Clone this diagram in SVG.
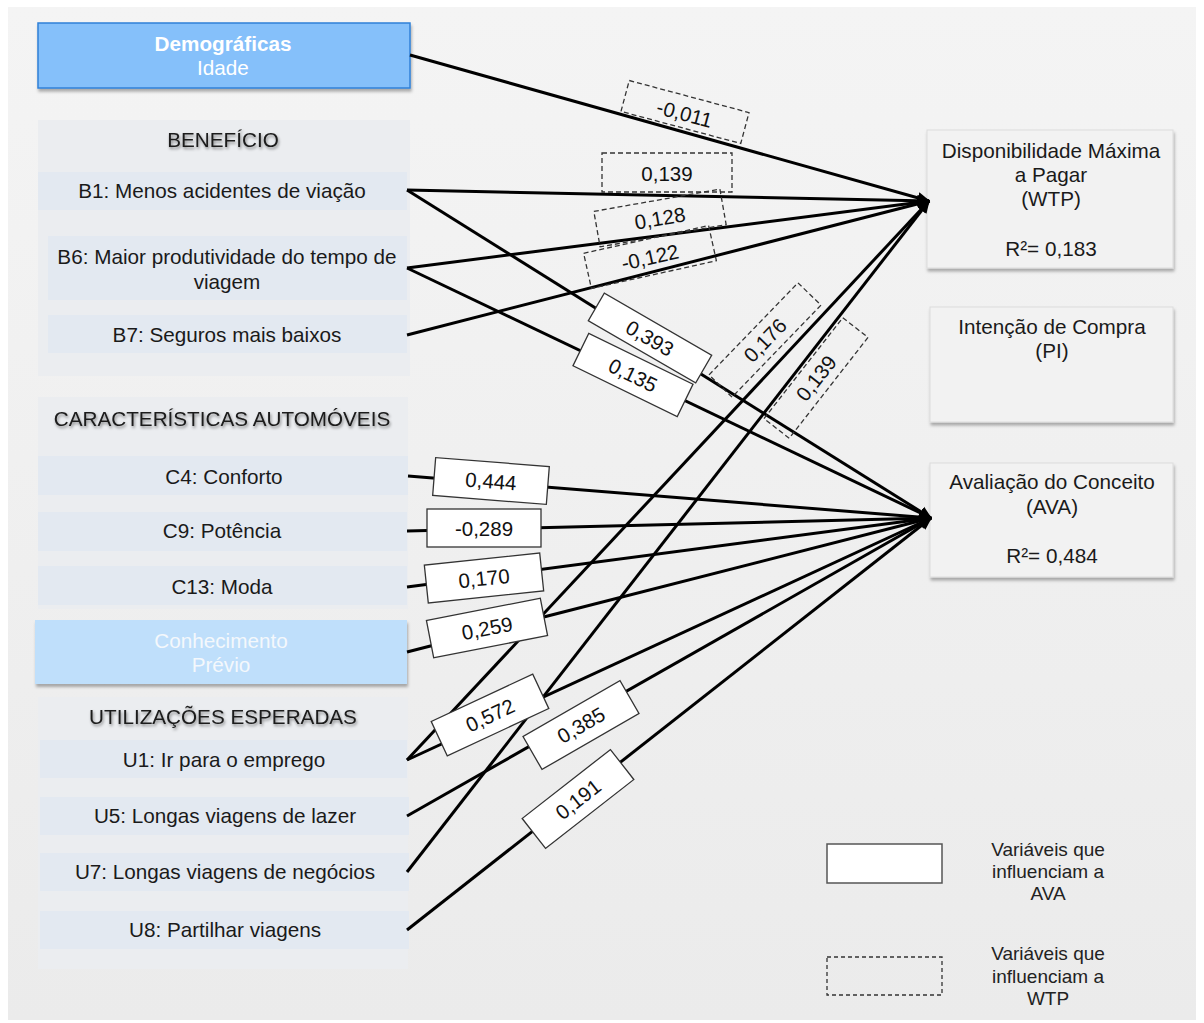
<svg xmlns="http://www.w3.org/2000/svg" width="1204" height="1023" viewBox="0 0 1204 1023">
<defs>
<linearGradient id="bg" x1="0" y1="0" x2="0" y2="1">
<stop offset="0" stop-color="#f4f4f4"/>
<stop offset="1" stop-color="#ebebeb"/>
</linearGradient>
<filter id="tshadow" x="-10%" y="-30%" width="120%" height="180%">
<feDropShadow dx="1" dy="2" stdDeviation="1.5" flood-color="#000" flood-opacity="0.45"/>
</filter>
<filter id="bshadow" x="-5%" y="-5%" width="115%" height="125%">
<feDropShadow dx="1" dy="3" stdDeviation="1.5" flood-color="#000" flood-opacity="0.3"/>
</filter>
<marker id="ah" viewBox="0 0 10 10" refX="9" refY="5" markerWidth="13" markerHeight="13" markerUnits="userSpaceOnUse" orient="auto">
<path d="M0,0.5 L10,5 L0,9.5 z" fill="#000"/>
</marker>
<style>
text{font-family:"Liberation Sans",Arial,sans-serif;fill:#1a1a1a;text-anchor:middle}
.t{font-size:20.7px}
.hd{font-size:20.7px;filter:url(#tshadow)}
.panel{fill:#ebedf0}
.row{fill:#e3e9f1}
.out{fill:#f2f2f2;stroke:#dcdcdc;stroke-width:1;filter:url(#bshadow)}
.ln{stroke:#000;stroke-width:3;fill:none;marker-end:url(#ah)}
.sol{fill:#fff;stroke:#333;stroke-width:1.3}
.dsh{fill:none;stroke:#333;stroke-width:1.3;stroke-dasharray:5,3}
.lb{font-size:20.5px;fill:#111}
.lg{font-size:19px;fill:#222}
</style>
</defs>

<rect x="0" y="0" width="1204" height="1023" fill="#fff"/>
<rect x="8" y="7" width="1188" height="1013" fill="url(#bg)"/>

<!-- left panels -->
<g id="panel-beneficio">
<rect class="panel" x="38" y="120" width="372" height="256"/>
<text class="hd" x="223" y="147">BENEFÍCIO</text>
</g>
<g id="panel-caracteristicas">
<rect class="panel" x="38" y="397" width="370" height="212"/>
<text class="hd" x="222" y="426">CARACTERÍSTICAS AUTOMÓVEIS</text>
</g>
<g id="panel-utilizacoes">
<rect class="panel" x="38" y="697" width="370" height="272"/>
<text class="hd" x="223" y="724">UTILIZAÇÕES ESPERADAS</text>
</g>

<g id="demograficas">
<rect x="38" y="23" width="372" height="65" fill="#85c0fa" stroke="#2f80d8" stroke-width="1.5" filter="url(#bshadow)"/>
<text x="223" y="51" style="font-size:20.7px;font-weight:bold;fill:#fff">Demográficas</text>
<text x="223" y="75" style="font-size:20.7px;fill:#fff">Idade</text>
</g>

<g id="b1"><rect class="row" x="38" y="172" width="369" height="38"/><text class="t" x="222" y="198">B1: Menos acidentes de viação</text></g>
<g id="b6"><rect class="row" x="48" y="236" width="359" height="64"/><text class="t" x="227" y="264">B6: Maior produtividade do tempo de</text><text class="t" x="227" y="289">viagem</text></g>
<g id="b7"><rect class="row" x="48" y="315" width="359" height="38"/><text class="t" x="227" y="342">B7: Seguros mais baixos</text></g>

<g id="c4"><rect class="row" x="38" y="456" width="370" height="39"/><text class="t" x="224" y="484">C4: Conforto</text></g>
<g id="c9"><rect class="row" x="38" y="512" width="369" height="39"/><text class="t" x="222" y="538">C9: Potência</text></g>
<g id="c13"><rect class="row" x="38" y="566" width="369" height="39"/><text class="t" x="222" y="594">C13: Moda</text></g>

<g id="conhecimento">
<rect x="35" y="620" width="372" height="64" fill="#bfdffb" filter="url(#bshadow)"/>
<text x="221" y="648" style="font-size:20.7px;fill:#f4f8fc">Conhecimento</text>
<text x="221" y="672" style="font-size:20.7px;fill:#f4f8fc">Prévio</text>
</g>

<g id="u1"><rect class="row" x="40" y="740" width="367" height="38"/><text class="t" x="224" y="767">U1: Ir para o emprego</text></g>
<g id="u5"><rect class="row" x="40" y="797" width="369" height="38"/><text class="t" x="225" y="823">U5: Longas viagens de lazer</text></g>
<g id="u7"><rect class="row" x="40" y="853" width="369" height="38"/><text class="t" x="225" y="879">U7: Longas viagens de negócios</text></g>
<g id="u8"><rect class="row" x="40" y="911" width="369" height="38"/><text class="t" x="225" y="937">U8: Partilhar viagens</text></g>

<!-- right nodes -->
<g id="wtp">
<rect class="out" x="927" y="130" width="246" height="138"/>
<text class="t" x="1051" y="158">Disponibilidade Máxima</text>
<text class="t" x="1051" y="182">a Pagar</text>
<text class="t" x="1051" y="206">(WTP)</text>
<text class="t" x="1051" y="256">R²= 0,183</text>
</g>
<g id="pi">
<rect class="out" x="930" y="307" width="243" height="115"/>
<text class="t" x="1052" y="334">Intenção de Compra</text>
<text class="t" x="1052" y="358">(PI)</text>
</g>
<g id="ava">
<rect class="out" x="930" y="463" width="243" height="114"/>
<text class="t" x="1052" y="489">Avaliação do Conceito</text>
<text class="t" x="1052" y="514">(AVA)</text>
<text class="t" x="1052" y="563">R²= 0,484</text>
</g>

<!-- connectors -->
<g id="connectors">
<line class="ln" x1="410" y1="55" x2="929" y2="201"/>
<line class="ln" x1="407" y1="190" x2="929" y2="201"/>
<line class="ln" x1="407" y1="268" x2="929" y2="201"/>
<line class="ln" x1="407" y1="335" x2="929" y2="201"/>
<line class="ln" x1="407" y1="760" x2="929" y2="201"/>
<line class="ln" x1="407" y1="872" x2="929" y2="201"/>
<line class="ln" x1="407" y1="190" x2="931" y2="518"/>
<line class="ln" x1="407" y1="268" x2="931" y2="518"/>
<line class="ln" x1="408" y1="476" x2="931" y2="518"/>
<line class="ln" x1="407" y1="531" x2="931" y2="518"/>
<line class="ln" x1="407" y1="587" x2="931" y2="518"/>
<line class="ln" x1="407" y1="652" x2="931" y2="518"/>
<line class="ln" x1="407" y1="760" x2="931" y2="518"/>
<line class="ln" x1="407" y1="816" x2="931" y2="518"/>
<line class="ln" x1="407" y1="930" x2="931" y2="518"/>
</g>

<!-- coefficient labels -->
<g id="labels">
<g transform="translate(685,112) rotate(15)"><rect class="dsh" x="-62" y="-16" width="124" height="32"/><text class="lb" x="0" y="9">-0,011</text></g>
<g transform="translate(667,173)"><rect class="dsh" x="-65" y="-20" width="130" height="39"/><text class="lb" x="0" y="7.5">0,139</text></g>
<g transform="translate(660,218) rotate(-10)"><rect class="dsh" x="-64" y="-18" width="128" height="36"/><text class="lb" x="0" y="7.5">0,128</text></g>
<g transform="translate(650,257) rotate(-12.5)"><rect class="dsh" x="-64" y="-18" width="128" height="36"/><text class="lb" x="0" y="7.5">-0,122</text></g>
<g transform="translate(765,340) rotate(-46)"><rect class="dsh" x="-64" y="-16" width="128" height="32"/><text class="lb" x="0" y="7.5">0,176</text></g>
<g transform="translate(816,378) rotate(-52)"><rect class="dsh" x="-64" y="-16" width="128" height="32"/><text class="lb" x="0" y="7.5">0,139</text></g>

<g transform="translate(650,338) rotate(30)"><rect class="sol" x="-62" y="-16" width="124" height="32"/><text class="lb" x="0" y="7.5">0,393</text></g>
<g transform="translate(633,375) rotate(26)"><rect class="sol" x="-58" y="-18" width="116" height="36"/><text class="lb" x="0" y="7.5">0,135</text></g>
<g transform="translate(491,481) rotate(4.5)"><rect class="sol" x="-57" y="-19" width="114" height="38"/><text class="lb" x="0" y="7.5">0,444</text></g>
<g transform="translate(484,528)"><rect class="sol" x="-57" y="-19" width="114" height="38"/><text class="lb" x="0" y="7.5">-0,289</text></g>
<g transform="translate(484,578) rotate(-6)"><rect class="sol" x="-58" y="-19" width="116" height="38"/><text class="lb" x="0" y="7.5">0,170</text></g>
<g transform="translate(487,628) rotate(-11)"><rect class="sol" x="-58" y="-19" width="116" height="38"/><text class="lb" x="0" y="7.5">0,259</text></g>
<g transform="translate(490,715) rotate(-25)"><rect class="sol" x="-56" y="-19" width="112" height="38"/><text class="lb" x="0" y="7.5">0,572</text></g>
<g transform="translate(581,725) rotate(-30)"><rect class="sol" x="-56" y="-19" width="112" height="38"/><text class="lb" x="0" y="7.5">0,385</text></g>
<g transform="translate(578,799) rotate(-38)"><rect class="sol" x="-56" y="-19" width="112" height="38"/><text class="lb" x="0" y="7.5">0,191</text></g>
</g>

<!-- legend -->
<g id="legend-ava">
<rect x="827" y="844" width="115" height="39" fill="#fff" stroke="#555" stroke-width="1.5"/>
<text class="lg" x="1048" y="856">Variáveis que</text>
<text class="lg" x="1048" y="878">influenciam a</text>
<text class="lg" x="1048" y="900">AVA</text>
</g>
<g id="legend-wtp">
<rect x="827" y="957" width="115" height="38" fill="none" stroke="#333" stroke-width="1.3" stroke-dasharray="4,3"/>
<text class="lg" x="1048" y="960">Variáveis que</text>
<text class="lg" x="1048" y="983">influenciam a</text>
<text class="lg" x="1048" y="1005">WTP</text>
</g>
</svg>
